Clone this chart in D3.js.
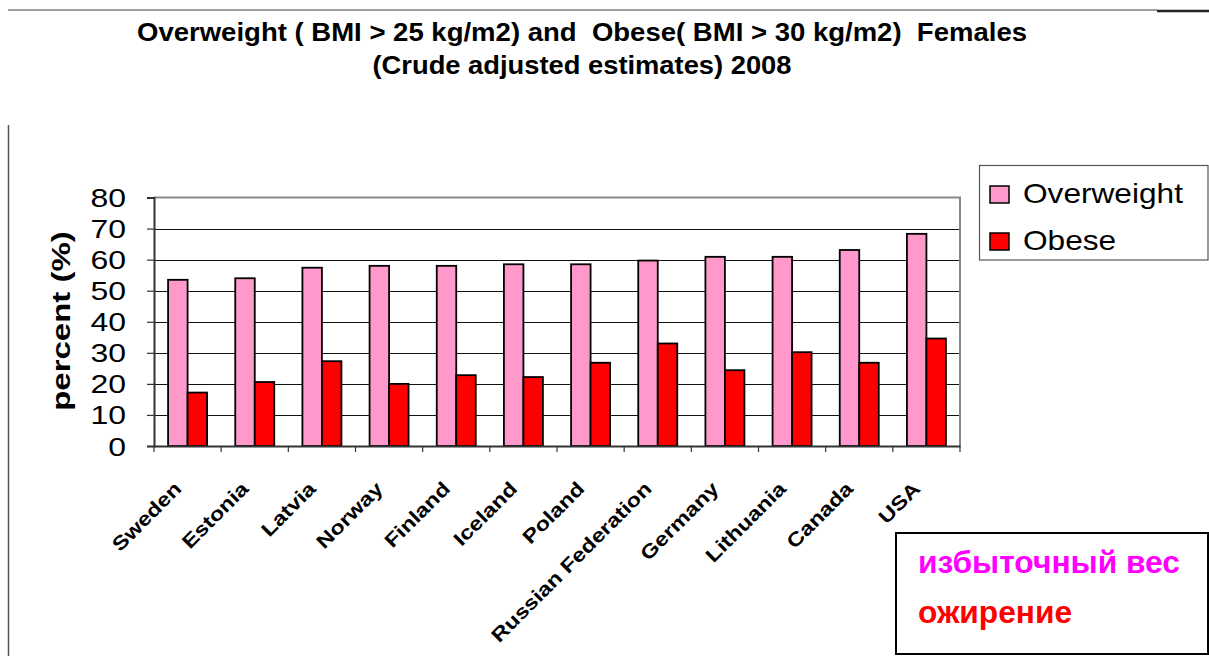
<!DOCTYPE html>
<html>
<head>
<meta charset="utf-8">
<script src="https://cdn.jsdelivr.net/npm/d3@7"></script>
<style>
  html, body { margin: 0; padding: 0; background: #fff; }
  svg { display: block; font-family: "Liberation Sans", Arial, sans-serif; }
  text { white-space: pre; }
</style>
</head>
<body>
<svg id="chart" width="1209" height="656"></svg>
<script>
// ---- data ----
const countries = ["Sweden", "Estonia", "Latvia", "Norway", "Finland", "Iceland", "Poland",
  "Russian Federation", "Germany", "Lithuania", "Canada", "USA"];
const overweight = [53.5, 54.0, 57.4, 58.0, 58.0, 58.5, 58.5, 59.7, 60.9, 60.9, 63.1, 68.3];
const obese = [17.2, 20.6, 27.3, 20.0, 22.8, 22.2, 26.8, 33.0, 24.4, 30.2, 26.8, 34.6];
const seriesNames = ["Overweight", "Obese"];
const yTicks = [0, 10, 20, 30, 40, 50, 60, 70, 80];
const titleLines = ["Overweight ( BMI > 25 kg/m2) and  Obese( BMI > 30 kg/m2)  Females",
  "(Crude adjusted estimates) 2008"];
const yTitle = "percent (%)";
const noteLines = ["избыточный вес", "ожирение"];

const colors = { Overweight: "#FF99CC", Obese: "#FF0000" };

(function () {
const svg = d3.select("#chart");

// frame lines
svg.append("line").attr("x1", 8).attr("x2", 1157).attr("y1", 10).attr("y2", 10)
  .attr("stroke", "#808080").attr("stroke-width", 1.5);
svg.append("line").attr("x1", 1157).attr("x2", 1209).attr("y1", 11).attr("y2", 11)
  .attr("stroke", "#222").attr("stroke-width", 2.5);
svg.append("line").attr("x1", 8.5).attr("x2", 8.5).attr("y1", 125).attr("y2", 656)
  .attr("stroke", "#555").attr("stroke-width", 1.5);

// title
const titleWidths = [890, 419];
titleLines.forEach((t, i) => {
  svg.append("text").attr("x", 582).attr("y", 41 + i * 33)
    .attr("text-anchor", "middle").attr("font-weight", "bold").attr("font-size", 25)
    .attr("textLength", titleWidths[i]).attr("lengthAdjust", "spacingAndGlyphs")
    .attr("fill", "#000").text(t);
});

// scales
const pLeft = 154, pRight = 960, pTop = 197.5, pBottom = 446;
const x = d3.scaleBand().domain(countries).range([pLeft, pRight]).paddingInner(0).paddingOuter(0);
const y = d3.scaleLinear().domain([0, 80]).range([pBottom, pTop]);
const barW = 19.5;
const groupOff = (x.bandwidth() - 2 * barW) / 2;

// gridlines
svg.append("g").selectAll("line").data(yTicks.filter(d => d > 0 && d < 80)).join("line")
  .attr("x1", pLeft).attr("x2", pRight)
  .attr("y1", d => Math.round(y(d)) + 0.5).attr("y2", d => Math.round(y(d)) + 0.5)
  .attr("stroke", "#111").attr("stroke-width", 1.1);

// plot border top / right
svg.append("path")
  .attr("d", `M${pLeft},${pTop} H${pRight} V${pBottom}`)
  .attr("fill", "none").attr("stroke", "#888").attr("stroke-width", 2);

// bars
const g = svg.append("g");
countries.forEach((c, i) => {
  [overweight[i], obese[i]].forEach((v, j) => {
    g.append("rect")
      .attr("x", x(c) + groupOff + j * barW)
      .attr("y", y(v))
      .attr("width", barW)
      .attr("height", y(0) - y(v))
      .attr("fill", colors[seriesNames[j]])
      .attr("stroke", "#000").attr("stroke-width", 1.8);
  });
});

// y axis
const yAxis = d3.axisLeft(y).tickValues(yTicks).tickSize(7).tickPadding(0).tickFormat(d3.format("d"));
const yg = svg.append("g").attr("transform", `translate(${pLeft},0)`).call(yAxis);
yg.select(".domain").attr("stroke", "#333").attr("stroke-width", 2);
yg.selectAll(".tick line").attr("stroke", "#333").attr("stroke-width", 1.2);
yg.selectAll(".tick text").remove();
yg.selectAll(".tick").append("text")
  .attr("x", 0).attr("y", 0)
  .attr("transform", "translate(-28,9) scale(1.28,1)")
  .attr("text-anchor", "end").attr("fill", "#000")
  .attr("font-size", 25).attr("font-family", "Liberation Sans, Arial, sans-serif")
  .text(d => d);

// x axis
const xAxis = d3.axisBottom(x).tickSize(0).tickFormat("");
const xg = svg.append("g").attr("transform", `translate(0,${pBottom})`).call(xAxis);
xg.select(".domain").attr("stroke", "#333").attr("stroke-width", 2);
xg.append("g").selectAll("line").data(d3.range(countries.length + 1)).join("line")
  .attr("x1", i => pLeft + i * x.step()).attr("x2", i => pLeft + i * x.step())
  .attr("y1", 0).attr("y2", 6).attr("stroke", "#333").attr("stroke-width", 1.2);

// x labels
svg.append("g").selectAll("text").data(countries).join("text")
  .attr("transform", d => `translate(${x(d) + x.bandwidth() / 2 - 5},490) rotate(-45) scale(1.2,1)`)
  .attr("text-anchor", "end").attr("font-weight", "bold").attr("font-size", 19.5)
  .attr("fill", "#000").text(d => d);

// y title
svg.append("text")
  .attr("transform", "translate(70,321) rotate(-90) scale(1.27,1)")
  .attr("text-anchor", "middle").attr("font-weight", "bold").attr("font-size", 26)
  .attr("fill", "#000").text(yTitle);

// legend
const lg = svg.append("g");
lg.append("rect").attr("x", 979.5).attr("y", 165.5).attr("width", 228.5).attr("height", 94.5)
  .attr("fill", "#fff").attr("stroke", "#555").attr("stroke-width", 1.2);
seriesNames.forEach((s, i) => {
  lg.append("rect").attr("x", 990).attr("y", 186 + i * 47).attr("width", 19).attr("height", 17)
    .attr("fill", colors[s]).attr("stroke", "#000").attr("stroke-width", 1.5);
  lg.append("text").attr("transform", `translate(1023,${203 + i * 47}) scale(1.13,1)`)
    .attr("font-size", 28).attr("fill", "#000").text(s);
});

// Russian note box
svg.append("rect").attr("x", 896).attr("y", 533).attr("width", 312).attr("height", 121)
  .attr("fill", "#fff").attr("stroke", "#000").attr("stroke-width", 2);
const noteColors = ["#FF00FF", "#FF0000"];
const noteWidths = [262, 154];
noteLines.forEach((t, i) => {
  svg.append("text").attr("x", 918).attr("y", 573 + i * 50)
    .attr("font-weight", "bold").attr("font-size", 31)
    .attr("textLength", noteWidths[i]).attr("lengthAdjust", "spacingAndGlyphs")
    .attr("fill", noteColors[i]).text(t);
});
})();
</script>
</body>
</html>
